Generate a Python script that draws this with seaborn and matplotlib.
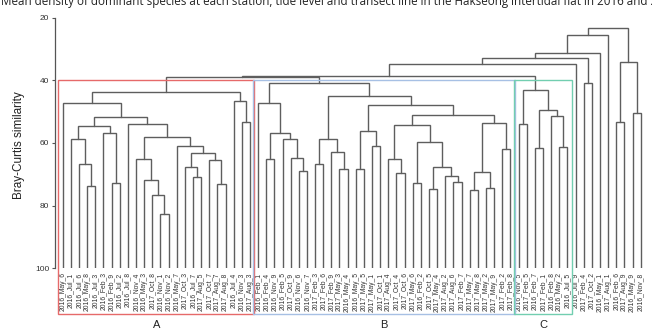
import matplotlib
matplotlib.use("Agg")
import matplotlib.pyplot as plt
import matplotlib.transforms as mtransforms
from matplotlib.patches import Rectangle
import seaborn as sns

title = ("Mean density of dominant species at each station, tide level and transect line "
         "in the Hakseong intertidal flat in 2016 and 2017")

leaf_labels = [
    "2016_May_6", "2016_Jul_1", "2016_Jul_6", "2016_May_8", "2016_Jul_3", "2016_Feb_3",
    "2016_Feb_9", "2016_Jul_2", "2016_Jul_8", "2016_Nov_4", "2016_May_3", "2017_Oct_8",
    "2016_Nov_1", "2016_Nov_2", "2016_May_7", "2017_Oct_3", "2016_Jul_7", "2017_Aug_5",
    "2017_Oct_7", "2017_Aug_7", "2017_Aug_8", "2016_Jul_4", "2016_Nov_3", "2017_Aug_3",
    "2016_Feb_1", "2016_Feb_4", "2016_Nov_9", "2016_Feb_5", "2017_Oct_9", "2016_Nov_6",
    "2016_Nov_7", "2017_Feb_3", "2017_Feb_6", "2017_Feb_9", "2017_May_3", "2016_May_4",
    "2016_May_5", "2017_May_5", "2017_May_1", "2017_Oct_1", "2017_Aug_4", "2017_Oct_4",
    "2017_Oct_6", "2017_May_6", "2016_Feb_2", "2017_Oct_5", "2017_May_4", "2017_Aug_2",
    "2017_Aug_6", "2017_Feb_7", "2017_May_7", "2017_May_8", "2017_May_2", "2017_May_9",
    "2017_Feb_2", "2017_Feb_8", "2016_Nov_5", "2017_Feb_5", "2016_Feb_7", "2017_Feb_1",
    "2016_Feb_8", "2016_May_2", "2016_Jul_5", "2016_Jul_9", "2017_Feb_4", "2017_Oct_2",
    "2016_May_1", "2017_Aug_1", "2016_Feb_6", "2017_Aug_9", "2016_May_9", "2016_Nov_8",
]

# (node, left, right, Bray-Curtis similarity)
# ints are leaf positions, strings are nodes defined earlier in the list
merges = [
    # cluster A
    ("a1", 3, 4, 73.7),
    ("a2", 2, "a1", 66.8),
    ("a3", 1, "a2", 58.6),
    ("a4", 6, 7, 72.7),
    ("a5", 5, "a4", 56.9),
    ("a6", "a3", "a5", 54.6),
    ("a7", 12, 13, 82.7),
    ("a8", 11, "a7", 76.6),
    ("a9", 10, "a8", 71.8),
    ("a10", 9, "a9", 65.1),
    ("a11", 16, 17, 70.8),
    ("a12", 15, "a11", 67.6),
    ("a13", 19, 20, 73.2),
    ("a14", 18, "a13", 65.4),
    ("a15", "a12", "a14", 63.1),
    ("a16", 14, "a15", 61.0),
    ("a17", "a10", "a16", 58.2),
    ("a18", 8, "a17", 54.0),
    ("a19", "a6", "a18", 51.6),
    ("a20", 0, "a19", 47.2),
    ("a21", 22, 23, 53.4),
    ("a22", 21, "a21", 46.6),
    ("A", "a20", "a22", 43.6),
    # cluster B
    ("b1", 29, 30, 68.9),
    ("b2", 28, "b1", 64.9),
    ("b3", 27, "b2", 58.8),
    ("b4", 25, 26, 65.2),
    ("b5", "b4", "b3", 56.7),
    ("b6", 24, "b5", 47.3),
    ("b7", 31, 32, 66.7),
    ("b8", 34, 35, 68.2),
    ("b9", 33, "b8", 62.8),
    ("b10", "b7", "b9", 58.7),
    ("b11", 36, 37, 68.2),
    ("b12", 38, 39, 60.9),
    ("b13", "b11", "b12", 56.2),
    ("b14", 41, 42, 69.7),
    ("b15", 40, "b14", 65.2),
    ("b16", 43, 44, 72.9),
    ("b17", 45, 46, 74.8),
    ("b18", 48, 49, 72.3),
    ("b19", 47, "b18", 70.4),
    ("b20", "b17", "b19", 67.6),
    ("b21", "b16", "b20", 59.6),
    ("b22", "b15", "b21", 54.3),
    ("b23", 50, 51, 75.0),
    ("b24", 52, 53, 74.3),
    ("b25", "b23", "b24", 69.2),
    ("b26", 54, 55, 62.0),
    ("b27", "b25", "b26", 53.5),
    ("b28", "b22", "b27", 51.1),
    ("b29", "b13", "b28", 47.9),
    ("b30", "b10", "b29", 45.0),
    ("B", "b6", "b30", 41.0),
    # cluster C
    ("c1", 56, 57, 54.0),
    ("c2", 58, 59, 61.7),
    ("c3", 61, 62, 61.2),
    ("c4", 60, "c3", 51.4),
    ("c5", "c2", "c4", 49.5),
    ("C", "c1", "c5", 43.1),
    # upper levels
    ("AB", "A", "B", 38.9),
    ("ABC", "AB", "C", 38.5),
    ("t1", "ABC", 63, 34.8),
    ("t2", 64, 65, 41.0),
    ("t3", "t1", "t2", 33.0),
    ("t4", "t3", 66, 31.4),
    ("t5", "t4", 67, 25.6),
    ("r1", 68, 69, 53.2),
    ("r2", 70, 71, 50.5),
    ("r3", "r1", "r2", 34.1),
    ("root", "t5", "r3", 23.4),
]

groups = ["A", "B", "C"]
group_first = [0, 24, 56]
group_last = [23, 55, 62]
group_colors = ["#e66a6a", "#a7c0e4", "#72ceb0"]

sns.set_theme(style="ticks")
plt.rcParams["font.family"] = ["Liberation Sans", "DejaVu Sans"]

fig = plt.figure(figsize=(6.52, 3.35), dpi=100)
ax = fig.add_axes([55 / 652, 0.1991, 593 / 652, 0.7481])

pos = {i: (float(i), 100.0) for i in range(len(leaf_labels))}
for node, left, right, sim in merges:
    xl, hl = pos[left]
    xr, hr = pos[right]
    ax.plot([xl, xl, xr, xr], [hl, sim, sim, hr], color="#5e5e5e", lw=1.0,
            solid_joinstyle="miter", zorder=2)
    pos[node] = ((xl + xr) / 2, sim)

ax.set_xlim(-0.95, 71.9)
ax.set_ylim(100, 20)
ax.set_yticks([20, 40, 60, 80, 100])
ax.tick_params(axis="y", labelsize=6, length=2.5, width=0.8, color="#555555",
               labelcolor="#333333", pad=1.5)
ax.set_xticks(range(len(leaf_labels)))
ax.set_xticklabels(leaf_labels, rotation=90, fontsize=4.9, color="#333333")
ax.tick_params(axis="x", length=0, pad=3)
ax.set_ylabel("Bray-Curtis similarity", fontsize=8.5, color="#222222")
ax.yaxis.set_label_coords(-0.05, 0.49)
sns.despine(ax=ax, bottom=True)
ax.spines["left"].set_color("#555555")
ax.spines["left"].set_linewidth(0.9)

# cluster boxes reach from similarity 40 down past the labels
trans = mtransforms.blended_transform_factory(ax.transData, ax.transAxes)
box_bottom = -0.182
box_top = 0.75
for name, first, last, col in zip(groups, group_first, group_last, group_colors):
    x0 = first - 0.6
    x1 = last + 0.55
    ax.add_patch(Rectangle((x0, box_bottom), x1 - x0, box_top - box_bottom,
                           transform=trans, fill=False, edgecolor=col, lw=1.0,
                           clip_on=False, zorder=3))
    ax.text((first + last) / 2, -0.226, name, transform=trans, ha="center",
            va="center", fontsize=8, color="#222222")

# the title sits partly above the top edge, as in the source figure
fig.text(0.002, 1 - 5.5 / 335, title, fontsize=8.4, family=["Open Sans", "DejaVu Sans"],
         va="baseline", ha="left", color="#222222")

fig.savefig("out.png", dpi=100)
